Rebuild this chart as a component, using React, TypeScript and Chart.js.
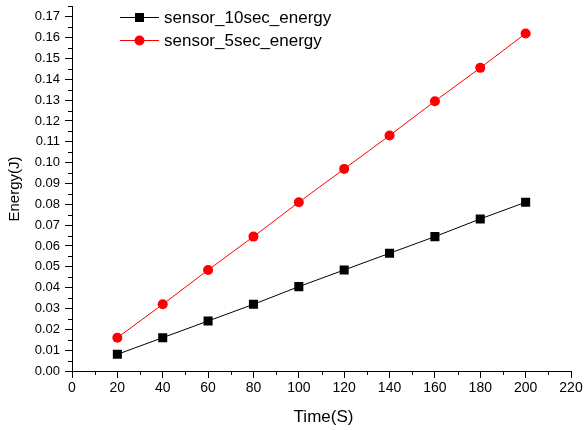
import React, { useEffect, useRef } from "react";
import { Chart, registerables } from "chart.js";
Chart.register(...registerables);

const timeS = [20, 40, 60, 80, 100, 120, 140, 160, 180, 200];
const sensor10 = [0.008, 0.016, 0.024, 0.032, 0.0405, 0.0485, 0.0565, 0.0645, 0.073, 0.081];
const sensor5 = [0.016, 0.032, 0.0485, 0.0645, 0.081, 0.097, 0.113, 0.1295, 0.1455, 0.162];
const xTicks = [0, 20, 40, 60, 80, 100, 120, 140, 160, 180, 200, 220];
const xMinor = [10, 30, 50, 70, 90, 110, 130, 150, 170, 190, 210];
const yTicks = [0, 0.01, 0.02, 0.03, 0.04, 0.05, 0.06, 0.07, 0.08, 0.09, 0.1, 0.11, 0.12, 0.13, 0.14, 0.15, 0.16, 0.17];
const yMinor = [0.005, 0.015, 0.025, 0.035, 0.045, 0.055, 0.065, 0.075, 0.085, 0.095, 0.105, 0.115, 0.125, 0.135, 0.145, 0.155, 0.165, 0.175];
const seriesNames = ["sensor_10sec_energy", "sensor_5sec_energy"];
const xTitle = "Time(S)";
const yTitle = "Energy(J)";

const FONT = "'Liberation Sans', Arial, sans-serif";

export default function App() {
  const ref = useRef<HTMLCanvasElement | null>(null);
  useEffect(() => {
    if (!ref.current) return;
    const extras = {
      id: "extras",
      afterDraw(chart: any) {
        const ctx = chart.ctx;
        const xs = chart.scales.x;
        const ys = chart.scales.y;
        const area = chart.chartArea;
        ctx.save();
        ctx.strokeStyle = "#000";
        ctx.lineWidth = 1;
        ctx.beginPath();
        for (const v of xMinor) {
          const px = Math.round(xs.getPixelForValue(v)) + 0.5;
          ctx.moveTo(px, area.bottom);
          ctx.lineTo(px, area.bottom + 4);
        }
        for (const v of yMinor) {
          const py = Math.round(ys.getPixelForValue(v)) + 0.5;
          ctx.moveTo(area.left, py);
          ctx.lineTo(area.left - 4, py);
        }
        ctx.stroke();
        // axis titles
        ctx.fillStyle = "#000";
        ctx.textAlign = "center";
        ctx.textBaseline = "middle";
        ctx.font = `17px ${FONT}`;
        ctx.fillText(xTitle, (area.left + area.right) / 2 + 2, 417);
        ctx.save();
        ctx.translate(15, 189);
        ctx.rotate(-Math.PI / 2);
        ctx.font = `15px ${FONT}`;
        ctx.fillText(yTitle, 0, 0);
        ctx.restore();
        // legend
        const rows = [
          { y: 17, color: "#000", style: "rect" },
          { y: 40, color: "#ff0000", style: "circle" },
        ];
        rows.forEach((r, i) => {
          ctx.strokeStyle = r.color;
          ctx.lineWidth = 1;
          ctx.beginPath();
          ctx.moveTo(120, r.y + 0.5);
          ctx.lineTo(159, r.y + 0.5);
          ctx.stroke();
          ctx.fillStyle = r.color;
          if (r.style === "rect") {
            ctx.fillRect(135, r.y - 4, 9, 9);
          } else {
            ctx.beginPath();
            ctx.arc(139.5, r.y + 0.5, 5, 0, Math.PI * 2);
            ctx.fill();
          }
          ctx.fillStyle = "#000";
          ctx.textAlign = "left";
          ctx.textBaseline = "middle";
          ctx.font = `17px ${FONT}`;
          ctx.fillText(seriesNames[i], 164, r.y + 1);
        });
        ctx.restore();
      },
    };
    const chart = new Chart(ref.current, {
      type: "line",
      data: {
        datasets: [
          {
            label: seriesNames[0],
            data: timeS.map((t, i) => ({ x: t, y: sensor10[i] })),
            borderColor: "#000",
            backgroundColor: "#000",
            borderWidth: 1,
            pointStyle: "rect",
            pointRadius: 6.4,
            pointBorderWidth: 0,
          },
          {
            label: seriesNames[1],
            data: timeS.map((t, i) => ({ x: t, y: sensor5[i] })),
            borderColor: "#ff0000",
            backgroundColor: "#ff0000",
            borderWidth: 1,
            pointStyle: "circle",
            pointRadius: 5,
            pointBorderWidth: 0,
          },
        ],
      },
      options: {
        responsive: false,
        animation: false,
        layout: { padding: { top: 3.5, right: 14, left: 0, bottom: 0 } },
        plugins: { legend: { display: false }, tooltip: { enabled: false } },
        scales: {
          x: {
            type: "linear",
            min: 0,
            max: 220,
            afterBuildTicks: (s: any) => {
              s.ticks = xTicks.map((v) => ({ value: v }));
            },
            afterFit: (s: any) => {
              s.height = 59;
              s.paddingLeft = 0;
              s.paddingRight = 0;
            },
            grid: { display: true, drawOnChartArea: false, tickLength: 7, color: "#000" },
            border: { display: true, color: "#000", width: 1 },
            ticks: { color: "#000", font: { family: FONT, size: 14 }, padding: 2, maxRotation: 0, callback: (v: any) => String(v) },
          },
          y: {
            type: "linear",
            min: 0,
            max: 0.175,
            afterBuildTicks: (s: any) => {
              s.ticks = yTicks.map((v) => ({ value: v }));
            },
            afterFit: (s: any) => {
              s.width = 72;
              s.paddingTop = 0;
              s.paddingBottom = 0;
            },
            grid: { display: true, drawOnChartArea: false, tickLength: 7, color: "#000" },
            border: { display: true, color: "#000", width: 1 },
            ticks: { color: "#000", font: { family: FONT, size: 13 }, padding: 5, callback: (v: any) => Number(v).toFixed(2) },
          },
        },
      },
      plugins: [extras],
    });
    return () => chart.destroy();
  }, []);
  return (
    <div style={{ position: "fixed", left: 0, top: 0, width: 585, height: 430, background: "#fff" }}>
      <canvas ref={ref} width={585} height={430} style={{ display: "block" }} />
    </div>
  );
}
